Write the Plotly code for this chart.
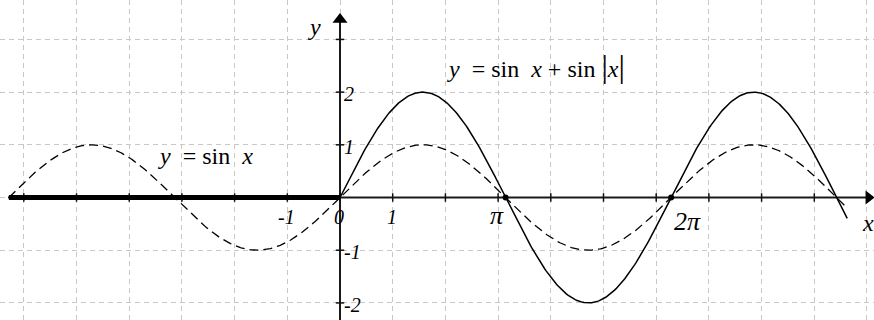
import numpy as np
import plotly.graph_objects as go

# Curve domain and sampling
x_start = -2 * np.pi
x_end = 3 * np.pi + 0.2
n_samples = 400

# Axis ticks and labels
x_ticks = list(range(-6, 10))
y_ticks = [-2, -1, 1, 2, 3]
x_num_labels = [(-1, "-1"), (0, "0"), (1, "1")]
x_pi_labels = [(np.pi, "π", -9, -18), (2 * np.pi, "2π", 16, -24)]
y_num_labels = [(2, "2"), (1, "1"), (-1, "-1"), (-2, "-2")]
zero_dots = [np.pi, 2 * np.pi]

# Plotted functions: y = sin x and y = sin x + sin|x|
x_left = np.linspace(x_start, 0, n_samples)
x_right = np.linspace(0, x_end, n_samples)
x_all = np.concatenate([x_left, x_right[1:]])
y_sin = np.sin(x_all)
y_sum_left = np.sin(x_left) + np.sin(np.abs(x_left))
y_sum_right = np.sin(x_right) + np.sin(np.abs(x_right))

X_RANGE = [-6.452, 10.133]
Y_RANGE = [-2.324, 3.748]
SERIF = "'Liberation Serif', 'Times New Roman', 'DejaVu Serif', serif"
INK = "#000"

fig = go.Figure()

# coordinate axes
fig.add_trace(go.Scatter(x=[-6.3, 10.0], y=[0, 0], mode="lines",
                         line=dict(color="#1a1a1a", width=2), hoverinfo="skip"))
fig.add_trace(go.Scatter(x=[0, 0], y=[Y_RANGE[0], 3.35], mode="lines",
                         line=dict(color="#1a1a1a", width=2), hoverinfo="skip"))
# tick marks
fig.add_trace(go.Scatter(x=x_ticks, y=[0] * len(x_ticks), mode="markers",
                         marker=dict(symbol="line-ns", size=6,
                                     line=dict(color="#111", width=1.5)),
                         hoverinfo="skip"))
fig.add_trace(go.Scatter(x=[0] * len(y_ticks), y=y_ticks, mode="markers",
                         marker=dict(symbol="line-ew", size=6,
                                     line=dict(color="#111", width=1.5)),
                         hoverinfo="skip"))
# arrow heads
fig.add_trace(go.Scatter(x=[10.03], y=[0], mode="markers",
                         marker=dict(symbol="triangle-right", size=12, color=INK),
                         hoverinfo="skip"))
fig.add_trace(go.Scatter(x=[0], y=[3.38], mode="markers",
                         marker=dict(symbol="triangle-up", size=13, color=INK),
                         hoverinfo="skip"))

# y = sin x (dashed)
fig.add_trace(go.Scatter(x=x_all, y=y_sin, mode="lines",
                         line=dict(color=INK, width=1.3, dash="9px,5px"),
                         hoverinfo="skip"))
# y = sin x + sin|x|
fig.add_trace(go.Scatter(x=x_left, y=y_sum_left, mode="lines",
                         line=dict(color=INK, width=5), hoverinfo="skip"))
fig.add_trace(go.Scatter(x=x_right, y=y_sum_right, mode="lines",
                         line=dict(color=INK, width=1.5), hoverinfo="skip"))
fig.add_trace(go.Scatter(x=zero_dots, y=[0] * len(zero_dots), mode="markers",
                         marker=dict(size=6, color=INK), hoverinfo="skip"))

ann = []
for v, t in x_num_labels:
    ann.append(dict(x=v, y=0, text=f"<i>{t}</i>", showarrow=False,
                    xanchor="center", yanchor="middle", yshift=-19, xshift=-1,
                    font=dict(family=SERIF, size=20, color=INK)))
for v, t, dx, dy in x_pi_labels:
    ann.append(dict(x=v, y=0, text=f"<i>{t}</i>", showarrow=False,
                    xanchor="center", yanchor="middle", xshift=dx,
                    yshift=dy, font=dict(family=SERIF, size=26, color=INK)))
for v, t in y_num_labels:
    ann.append(dict(x=0, y=v, text=f"<i>{t}</i>", showarrow=False,
                    xanchor="left", yanchor="middle", xshift=2, yshift=-2,
                    font=dict(family=SERIF, size=20, color=INK)))
# axis names
ann.append(dict(x=0, y=0, text="<i>x</i>", showarrow=False, xanchor="center",
                yanchor="middle", xshift=528, yshift=-25,
                font=dict(family=SERIF, size=24, color=INK)))
ann.append(dict(x=0, y=0, text="<i>y</i>", showarrow=False, xanchor="center",
                yanchor="middle", xshift=-26, yshift=171,
                font=dict(family=SERIF, size=24, color=INK)))
# curve captions
ann.append(dict(x=-2.55, y=0.79, text="<i>y</i>&nbsp; =&nbsp;sin&nbsp;&nbsp;<i>x</i>",
                showarrow=False, xanchor="center", yanchor="middle",
                font=dict(family=SERIF, size=24, color=INK)))
ann.append(dict(x=3.72, y=2.5,
                text="<i>y</i>&nbsp; =&nbsp;sin&nbsp;&nbsp;<i>x</i>&nbsp;+&nbsp;sin&nbsp;"
                     "<span style='font-size:32px'>|</span><i>x</i>"
                     "<span style='font-size:32px'>|</span>",
                showarrow=False, xanchor="center", yanchor="middle",
                font=dict(family=SERIF, size=24, color=INK)))

fig.update_layout(
    width=874, height=320, autosize=False,
    margin=dict(l=0, r=0, t=0, b=0),
    paper_bgcolor="white", plot_bgcolor="white",
    showlegend=False, annotations=ann,
    xaxis=dict(range=X_RANGE, showgrid=True, dtick=1, tick0=0,
               gridcolor="#c8c8c8", gridwidth=1, griddash="5px,4px",
               zeroline=False, showticklabels=False, ticks="", fixedrange=True),
    yaxis=dict(range=Y_RANGE, showgrid=True, dtick=1, tick0=0,
               gridcolor="#c8c8c8", gridwidth=1, griddash="5px,4px",
               zeroline=False, showticklabels=False, ticks="", fixedrange=True),
)

fig.write_html("out.html")
